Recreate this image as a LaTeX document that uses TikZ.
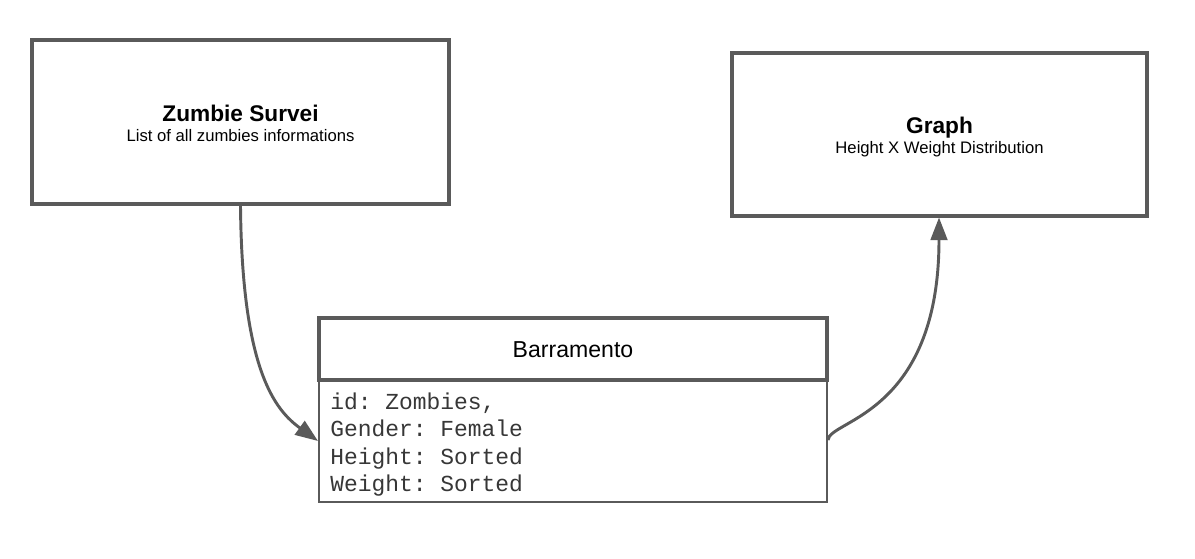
\documentclass[tikz,border=0pt]{standalone}
\usepackage{fontspec}
\setmainfont{Liberation Sans}
\setmonofont{Liberation Mono}
\usetikzlibrary{arrows.meta}
\definecolor{edge}{RGB}{90,90,90}
\definecolor{monotext}{RGB}{55,55,55}
\begin{document}
\begin{tikzpicture}[x=0.75pt,y=-0.75pt,
  thickbox/.style={draw=edge,line width=3pt,fill=white,inner sep=0pt},
  thinbox/.style={draw=edge,line width=1.5pt,fill=white,inner sep=0pt},
  titletext/.style={anchor=base,inner sep=0pt,font=\fontsize{17}{20}\selectfont\bfseries},
  subtext/.style={anchor=base,inner sep=0pt,font=\fontsize{12.5}{15}\selectfont},
  headtext/.style={anchor=base,inner sep=0pt,font=\fontsize{17.3}{20}\selectfont},
  monoline/.style={anchor=base west,inner sep=0pt,text=monotext,font=\ttfamily\fontsize{17.2}{20}\selectfont},
  conn/.style={draw=edge,line width=2.2pt,-{Triangle[length=17pt,width=12.5pt]}}]
\useasboundingbox[fill=white] (0,0) rectangle (1195,559);

% boxes
\node[thickbox,minimum width=312.75pt,minimum height=123pt] (zs) at (240.5,122) {};
\node[thickbox,minimum width=311.25pt,minimum height=122.25pt] (gr) at (939.5,134.5) {};
\node[thinbox,minimum width=381pt,minimum height=91.5pt] (body) at (573,441) {};
\node[thickbox,minimum width=381pt,minimum height=46.5pt] (head) at (573,349) {};

% texts
\node[titletext] (zst) at (240.5,121.5) {Zumbie Survei};
\node[subtext] (zss) at (240.5,141.5) {List of all zumbies informations};
\node[titletext] (grt) at (939.5,134) {Graph};
\node[subtext] (grs) at (939.5,154) {Height X Weight Distribution};
\node[headtext] (hdt) at (573,358) {Barramento};
\node[monoline] (l1) at (330,409) {id: Zombies,};
\node[monoline] (l2) at (330,436.5) {Gender: Female};
\node[monoline] (l3) at (330,464) {Height: Sorted};
\node[monoline] (l4) at (330,491.5) {Weight: Sorted};

% connectors
\coordinate (bodyin) at (body.west |- 0,441);
\coordinate (bodyout) at (body.east |- 0,440);
\coordinate (grin) at (939,217.5);
\draw[conn] (zs.south) .. controls (242,370) and (275,410) .. (bodyin);
\draw[conn] (bodyout) .. controls (829,420) and (939,415) .. (grin);
\end{tikzpicture}
\end{document}
